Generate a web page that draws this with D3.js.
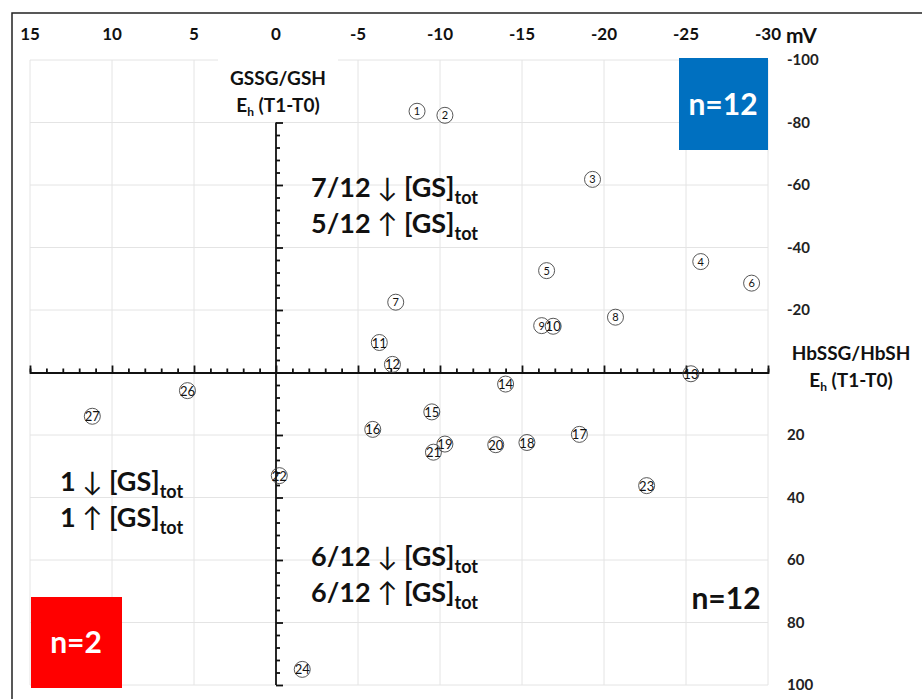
<!DOCTYPE html>
<html>
<head>
<meta charset="utf-8">
<script src="https://cdn.jsdelivr.net/npm/d3@7"></script>
<style>
  body { margin:0; background:#fff; }
  text { font-family: Lato, "Open Sans", sans-serif; }
</style>
</head>
<body>
<div id="chart"></div>
<script>
// data
var ids   = [1, 2, 3, 4, 5, 6, 7, 8, 9, 10, 11, 12, 13, 14, 15, 16, 17, 18, 19, 20, 21, 22, 23, 24, 26, 27];
var xVals = [-8.6, -10.3, -19.3, -25.9, -16.5, -29.0, -7.3, -20.7, -16.2, -16.9, -6.3, -7.1, -25.3, -14.0, -9.5, -5.9, -18.5, -15.3, -10.3, -13.4, -9.6, -0.2, -22.6, -1.6, 5.4, 11.2];
var yVals = [-83.6, -82.3, -61.8, -35.5, -32.6, -28.6, -22.5, -17.7, -15.0, -14.8, -9.6, -2.6, 0.4, 3.7, 12.6, 18.2, 19.8, 22.4, 22.9, 23.1, 25.5, 33.0, 36.2, 95.0, 5.8, 14.0];

var xTicks = [15, 10, 5, 0, -5, -10, -15, -20, -25, -30];
var yTicks = [-100, -80, -60, -40, -20, 20, 40, 60, 80, 100];
var yGrid  = [-100, -80, -60, -40, -20, 0, 20, 40, 60, 80, 100];

// quadrant notes: [count, arrow]
var noteTR = [["7/12", "\u2193"], ["5/12", "\u2191"]];
var noteBL = [["1", "\u2193"], ["1", "\u2191"]];
var noteBR = [["6/12", "\u2193"], ["6/12", "\u2191"]];

var width = 922, height = 699;

var svg = d3.select('#chart').append('svg')
    .attr('width', width)
    .attr('height', height);

var xscale = d3.scaleLinear().domain([15, -30]).range([30, 768]);
var yscale = d3.scaleLinear().domain([-100, 100]).range([60, 685]);

// outer frame
svg.append('rect')
    .attr('x', 12).attr('y', 13)
    .attr('width', 960).attr('height', 720)
    .attr('fill', 'none').attr('stroke', '#222').attr('stroke-width', 1.5);

// grid
var grid = svg.append('g').attr('stroke', '#e4e4e4').attr('stroke-width', 1);
grid.selectAll('.vg').data(xTicks).enter().append('line')
    .attr('x1', function(d){ return xscale(d); })
    .attr('x2', function(d){ return xscale(d); })
    .attr('y1', yscale(-100)).attr('y2', yscale(100));
grid.selectAll('.hg').data(yGrid).enter().append('line')
    .attr('y1', function(d){ return yscale(d); })
    .attr('y2', function(d){ return yscale(d); })
    .attr('x1', xscale(15)).attr('x2', xscale(-30));

// white box behind the vertical axis title
svg.append('rect')
    .attr('x', 218).attr('y', 59).attr('width', 120).attr('height', 63)
    .attr('fill', '#fff');

// horizontal axis through y=0, ticks every 1 mV
var xAxis = d3.axisTop(xscale)
    .tickValues(d3.range(15, -30.5, -1))
    .tickSize(4)
    .tickFormat('');
var gx = svg.append('g')
    .attr('transform', 'translate(0,' + yscale(0) + ')')
    .call(xAxis);
gx.selectAll('.tick line')
    .attr('y2', function(d){ return d % 5 === 0 ? -7 : -4; });

// vertical axis through x=0, ticks every 4
var yAxis = d3.axisRight(yscale)
    .tickValues(d3.range(-80, 100.5, 4))
    .tickSize(4)
    .tickFormat('');
var gy = svg.append('g')
    .attr('transform', 'translate(' + xscale(0) + ',0)')
    .call(yAxis);
gy.selectAll('.tick line')
    .attr('x2', function(d){ return d % 20 === 0 ? 7 : 4; });
gy.select('.domain').attr('d', 'M0,' + yscale(-80) + 'V' + yscale(100));

svg.selectAll('.domain, .tick line').attr('stroke', '#111').attr('stroke-width', 1.8);

// top tick labels
svg.selectAll('.xl').data(xTicks).enter().append('text')
    .attr('x', function(d){ return xscale(d); })
    .attr('y', 40)
    .attr('text-anchor', 'middle')
    .attr('font-size', 17).attr('font-weight', 'bold').attr('fill', '#111')
    .text(function(d){ return d; });
svg.append('text').attr('x', 786).attr('y', 43)
    .attr('font-size', 21).attr('font-weight', 'bold').attr('fill', '#111')
    .text('mV');

// right tick labels
svg.selectAll('.yl').data(yTicks).enter().append('text')
    .attr('x', 787)
    .attr('y', function(d){ return yscale(d) + 5; })
    .attr('font-size', 15).attr('font-weight', 'bold').attr('fill', '#222')
    .text(function(d){ return d; });

// axis titles
function ehTitle(x, y, first) {
    var t = svg.append('text').attr('x', x).attr('y', y)
        .attr('text-anchor', 'middle')
        .attr('font-size', 19).attr('font-weight', 'bold').attr('fill', '#111');
    t.append('tspan').attr('x', x).text(first);
    var l2 = t.append('tspan').attr('x', x).attr('dy', 27);
    l2.append('tspan').text('E');
    l2.append('tspan').attr('font-size', 12).attr('dy', 4).text('h');
    l2.append('tspan').attr('dy', -4).text(' (T1-T0)');
}
ehTitle(278, 85, 'GSSG/GSH');
ehTitle(851, 360, 'HbSSG/HbSH');

// quadrant notes
function note(x, y, lines) {
    lines.forEach(function(l, i){
        var t = svg.append('text').attr('x', x).attr('y', y + i * 36)
            .attr('font-size', 27).attr('font-weight', 'bold').attr('fill', '#111');
        t.append('tspan').text(l[0] + ' ');
        t.append('tspan').attr('font-weight', 'normal').text(l[1]);
        t.append('tspan').text(' [GS]');
        t.append('tspan').attr('font-size', 18).attr('dy', 7).text('tot');
    });
}
note(311, 197, noteTR);
note(60, 491, noteBL);
note(311, 566, noteBR);

// n boxes
svg.append('rect').attr('x', 679).attr('y', 58).attr('width', 89).attr('height', 92).attr('fill', '#0070C0');
svg.append('text').attr('x', 723).attr('y', 115).attr('text-anchor', 'middle')
    .attr('font-size', 30).attr('font-weight', 'bold').attr('fill', '#fff').text('n=12');
svg.append('rect').attr('x', 31).attr('y', 597).attr('width', 91).attr('height', 91).attr('fill', '#FF0000');
svg.append('text').attr('x', 76).attr('y', 653).attr('text-anchor', 'middle')
    .attr('font-size', 30).attr('font-weight', 'bold').attr('fill', '#fff').text('n=2');
svg.append('text').attr('x', 726).attr('y', 609).attr('text-anchor', 'middle')
    .attr('font-size', 30).attr('font-weight', 'bold').attr('fill', '#111').text('n=12');

// points: circled numbers
var pts = ids.map(function(id, i){ return {id: id, x: xVals[i], y: yVals[i]}; });
var pg = svg.selectAll('.pt').data(pts).enter().append('g')
    .attr('transform', function(d){ return 'translate(' + xscale(d.x) + ',' + yscale(d.y) + ')'; });
pg.append('circle').attr('r', 8)
    .attr('fill', 'none').attr('stroke', '#444').attr('stroke-width', 0.9);
pg.append('text')
    .attr('text-anchor', 'middle')
    .attr('y', function(d){ return d.id < 10 ? 4 : 5; })
    .attr('font-size', function(d){ return d.id < 10 ? 11 : 13; })
    .attr('fill', '#111')
    .text(function(d){ return d.id; });
</script>
</body>
</html>
